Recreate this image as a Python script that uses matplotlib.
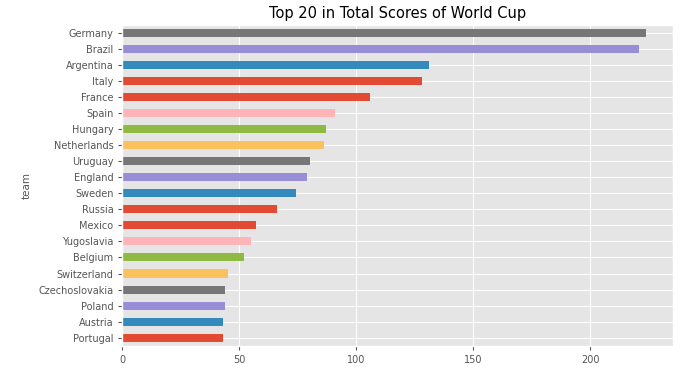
import matplotlib
matplotlib.use("Agg")
import matplotlib.pyplot as plt

plt.style.use("ggplot")

teams = ["Germany", "Brazil", "Argentina", "Italy", "France", "Spain", "Hungary",
         "Netherlands", "Uruguay", "England", "Sweden", "Russia", "Mexico",
         "Yugoslavia", "Belgium", "Switzerland", "Czechoslovakia", "Poland",
         "Austria", "Portugal"]
scores = [224, 221, 131, 128, 106, 91, 87, 86, 80, 79, 74, 66, 57, 55, 52, 45,
          44, 44, 43, 43]

cycle = ["#E24A33", "#348ABD", "#988ED5", "#777777", "#FBC15E", "#8EBA42",
         "#FFB5B8", "#E24A33"]

# plot from bottom (Portugal) to top (Germany)
teams_b = teams[::-1]
scores_b = scores[::-1]
colors = [cycle[i % len(cycle)] for i in range(len(teams_b))]

fig = plt.figure(figsize=(6.92, 3.73), dpi=100)
ax = fig.add_axes([0.177, 0.073, 0.795, 0.861])
ax.barh(range(len(teams_b)), scores_b, height=0.5, color=colors)
ax.set_yticks(range(len(teams_b)))
ax.set_yticklabels(teams_b)
ax.set_ylim(-0.5, len(teams_b) - 0.5)
ax.set_xlim(0, max(scores) * 1.05)
ax.set_xticks([0, 50, 100, 150, 200])
ax.tick_params(axis="both", labelsize=7, colors="#555555", length=3)
for lbl in ax.get_xticklabels() + ax.get_yticklabels():
    lbl.set_color("#555555")
ax.set_ylabel("team", fontsize=7.5, color="#555555", labelpad=5)
ax.set_title("Top 20 in Total Scores of World Cup", fontsize=10.5, color="black", pad=5)

fig.savefig("out.png", dpi=100)
